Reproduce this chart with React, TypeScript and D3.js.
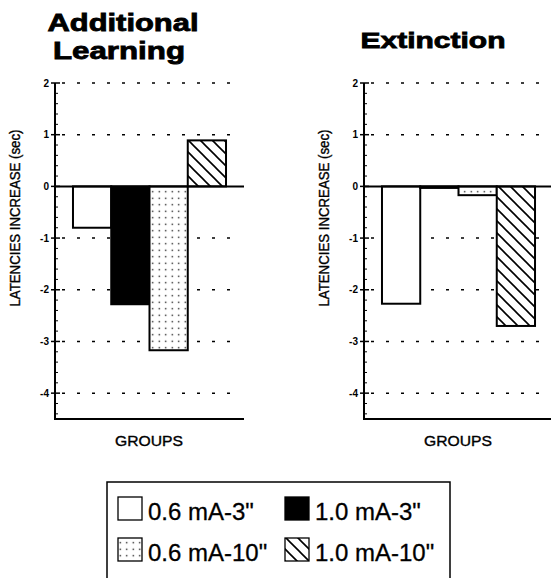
import React from 'react';
import * as d3 from 'd3';

// groups (legend order) and the two panels' values
const groups = ['0.6 mA-3"', '1.0 mA-3"', '0.6 mA-10"', '1.0 mA-10"'];
const additionalLearning = [-0.8, -2.28, -3.17, 0.89];
const extinction = [-2.27, -0.03, -0.17, -2.7];
const yTicks = [-4, -3, -2, -1, 0, 1, 2];
const gridTicks = [-4, -3, -2, -1, 1, 2];

const FONT = '"Liberation Sans", Arial, Helvetica, sans-serif';
const fills = ['#fff', '#000', 'url(#dots)', 'url(#hatch)'];

const W = 551;
const H = 578;
const axisTop = 83;
const axisBottom = 419;
const panelWidth = 189;

const y = d3.scaleLinear().domain([-4.5, 2]).range([axisBottom, axisTop]);
const minorTicks = d3.range(-4.4, 2.01, 0.2).filter(v => Math.abs(v - Math.round(v)) > 0.01);

interface PanelProps {
  x0: number;
  values: number[];
}

const Panel: React.FC<PanelProps> = ({ x0, values }) => {
  const x = d3.scaleBand<string>()
    .domain(groups)
    .range([x0, x0 + panelWidth])
    .paddingInner(0)
    .paddingOuter(0.47);

  return (
    <g>
      {/* dashed grid */}
      {gridTicks.map(t => (
        <line key={'g' + t} x1={x0 + 7} x2={x0 + 178} y1={y(t)} y2={y(t)}
          stroke="#000" strokeWidth={1.5} strokeDasharray="3,12" />
      ))}

      {/* bars */}
      {values.map((v, i) => (
        <rect key={'b' + i}
          x={x(groups[i])}
          y={Math.min(y(v), y(0))}
          width={x.bandwidth()}
          height={Math.abs(y(v) - y(0))}
          fill={fills[i]} stroke="#000" strokeWidth={2} />
      ))}

      {/* zero line */}
      <line x1={x0} x2={x0 + panelWidth} y1={y(0)} y2={y(0)} stroke="#000" strokeWidth={2} />

      {/* axes */}
      <line x1={x0} x2={x0} y1={axisTop} y2={axisBottom} stroke="#000" strokeWidth={2} />
      <line x1={x0 - 1} x2={x0 + panelWidth} y1={axisBottom} y2={axisBottom} stroke="#000" strokeWidth={2} />

      {minorTicks.map(t => (
        <line key={'m' + t.toFixed(1)} x1={x0} x2={x0 + 3} y1={y(t)} y2={y(t)} stroke="#000" strokeWidth={1} />
      ))}
      {yTicks.map(t => (
        <g key={'t' + t}>
          <line x1={x0 - 4} x2={x0 + 5} y1={y(t)} y2={y(t)} stroke="#000" strokeWidth={1.5} />
          <text x={x0 - 6} y={y(t) + 3.5} textAnchor="end" fontFamily={FONT}
            fontWeight="bold" fontSize={10}>{t}</text>
        </g>
      ))}

      <text transform={`translate(${x0 - 35},${218}) rotate(-90)`} textAnchor="middle"
        fontFamily={FONT} fontSize={14} stroke="#000" strokeWidth={0.35}
        textLength={177} lengthAdjust="spacingAndGlyphs">LATENCIES INCREASE (sec)</text>

      <text x={x0 + 94} y={446} textAnchor="middle" fontFamily={FONT} fontSize={14}
        stroke="#000" strokeWidth={0.35}
        textLength={68} lengthAdjust="spacingAndGlyphs">GROUPS</text>
    </g>
  );
};

const legendCols = [118, 285];
const legendRows = [497, 538];

export default function App() {
  return (
    <svg width={W} height={H} style={{ position: 'absolute', left: 0, top: 0, background: '#fff' }}>
      <defs>
        <pattern id="dots" patternUnits="userSpaceOnUse" width={6.5} height={6.5}>
          <rect width={6.5} height={6.5} fill="#fff" />
          <rect x={2.6} y={2.6} width={1.3} height={1.3} fill="#000" />
        </pattern>
        <pattern id="hatch" patternUnits="userSpaceOnUse" width={12} height={12}>
          <rect width={12} height={12} fill="#fff" />
          <path d="M-1,-1 L13,13 M11,-1 L13,1 M-1,11 L1,13" stroke="#000" strokeWidth={1.6} />
        </pattern>
      </defs>

      <rect width={W} height={H} fill="#fff" />

      {/* titles */}
      <g fontFamily={FONT} fontWeight="bold" textAnchor="middle" stroke="#000" strokeWidth={0.8}>
        <text x={123} y={31} fontSize={23} textLength={151} lengthAdjust="spacingAndGlyphs">Additional</text>
        <text x={119} y={59} fontSize={23} textLength={132} lengthAdjust="spacingAndGlyphs">Learning</text>
        <text x={433} y={48} fontSize={22} textLength={145} lengthAdjust="spacingAndGlyphs">Extinction</text>
      </g>

      <Panel x0={55} values={additionalLearning} />
      <Panel x0={364} values={extinction} />

      {/* legend */}
      <rect x={107} y={482} width={343} height={110} fill="none" stroke="#000" strokeWidth={1.5} />
      {groups.map((gname, i) => {
        const cx = legendCols[i % 2];
        const cy = legendRows[Math.floor(i / 2)];
        return (
          <g key={'l' + i}>
            <rect x={cx} y={cy} width={24} height={23} fill={fills[i]} stroke="#000" strokeWidth={1.3} />
            <text x={cx + 30} y={cy + 23} fontFamily={FONT} fontSize={24}
              stroke="#000" strokeWidth={0.3}>{gname}</text>
          </g>
        );
      })}
    </svg>
  );
}
